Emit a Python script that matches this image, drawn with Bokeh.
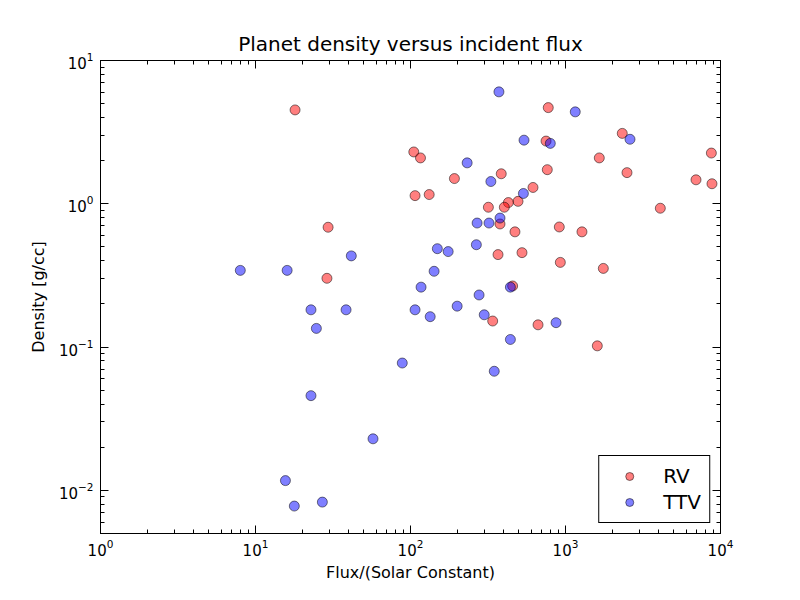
from bokeh.plotting import figure
from bokeh.models import LogAxis, LogTicker, Legend, LegendItem, CustomJSTickFormatter
from bokeh.embed import file_html
from bokeh.resources import INLINE

# Valores (fluxo em constantes solares, densidade em g/cc)
rv_fluxo = [18.0, 29.4, 28.9, 774, 2324, 749, 105, 116, 8730, 1652, 763, 2493,
            385, 192, 6950, 8810, 617, 107, 132, 494, 428, 403, 318, 4090,
            378, 912, 472, 1277, 367, 524, 926, 1754, 456, 339, 665, 1604]
rv_densidade = [4.52, 0.686, 0.302, 4.69, 3.10, 2.74, 2.30, 2.09, 2.26, 2.09, 1.73, 1.65,
                1.62, 1.50, 1.47, 1.38, 1.30, 1.14, 1.16, 1.04, 1.02, 0.946, 0.946, 0.931,
                0.723, 0.689, 0.637, 0.637, 0.442, 0.456, 0.390, 0.354, 0.267, 0.152, 0.143, 0.102]

ttv_fluxo = [372, 1156, 2607, 540, 798, 232, 330, 535, 378, 269, 321, 149,
             175, 266, 142, 117, 441, 277, 107, 134, 200, 299, 869, 441,
             88.5, 347, 7.98, 16.0, 41.5, 22.8, 38.4, 24.7, 22.8, 57.3, 15.6, 17.8, 27.0]
ttv_densidade = [6.04, 4.38, 2.82, 2.78, 2.64, 1.93, 1.43, 1.18, 0.795, 0.734, 0.734, 0.486,
                 0.464, 0.518, 0.338, 0.262, 0.262, 0.231, 0.182, 0.163, 0.193, 0.168, 0.148, 0.113,
                 0.0774, 0.0678, 0.343, 0.343, 0.433, 0.182, 0.182, 0.135, 0.0458, 0.0229, 0.0117, 0.00777, 0.00828]

FONTE = "DejaVu Sans"

p = figure(width=784, height=584, x_axis_type="log", y_axis_type="log",
           x_range=(1, 1e4), y_range=(0.005, 10),
           title="Planet density versus incident flux",
           x_axis_label="Flux/(Solar Constant)", y_axis_label="Density [g/cc]",
           output_backend="svg", toolbar_location=None,
           min_border_left=100, min_border_right=64, min_border_top=60, min_border_bottom=44)

p.title.align = "center"
p.title.text_font = FONTE
p.title.text_font_size = "20px"
p.title.text_font_style = "normal"
p.title.text_color = "black"
p.xgrid.visible = False
p.ygrid.visible = False
p.outline_line_color = "black"
p.outline_line_width = 1


def estilo_eixo(eixo):
    eixo.ticker = LogTicker(num_minor_ticks=10)
    eixo.major_tick_in = 8
    eixo.major_tick_out = 0
    eixo.minor_tick_in = 4
    eixo.minor_tick_out = 0
    eixo.axis_line_color = "black"
    eixo.major_tick_line_color = "black"
    eixo.minor_tick_line_color = "black"
    eixo.major_label_text_font = FONTE
    eixo.major_label_text_font_size = "15px"
    eixo.major_label_text_color = "black"
    eixo.major_label_standoff = 7
    eixo.axis_label_text_font = FONTE
    eixo.axis_label_text_font_size = "16px"
    eixo.axis_label_text_font_style = "normal"
    eixo.axis_label_text_color = "black"
    eixo.axis_label_standoff = 8


estilo_eixo(p.xaxis[0])
estilo_eixo(p.yaxis[0])
p.xaxis[0].major_label_standoff = 5
p.xaxis[0].axis_label_standoff = 4

# eixos extras só com marcas (sem rótulos), como no estilo do matplotlib
topo = LogAxis(formatter=CustomJSTickFormatter(code="return ''"))
estilo_eixo(topo)
topo.major_label_standoff = 0
p.add_layout(topo, "above")
direita = LogAxis(formatter=CustomJSTickFormatter(code="return ''"))
estilo_eixo(direita)
direita.major_label_standoff = 0
p.add_layout(direita, "right")

rv = p.scatter(rv_fluxo, rv_densidade, size=10, fill_color="red", fill_alpha=0.5,
               line_color="black", line_alpha=0.5)
ttv = p.scatter(ttv_fluxo, ttv_densidade, size=10, fill_color="blue", fill_alpha=0.5,
                line_color="black", line_alpha=0.5)

legenda = Legend(items=[LegendItem(label="RV", renderers=[rv]),
                        LegendItem(label="TTV", renderers=[ttv])],
                 location="bottom_right")
legenda.label_text_font = FONTE
legenda.label_text_font_size = "20px"
legenda.label_text_color = "black"
legenda.border_line_color = "black"
legenda.border_line_width = 1
legenda.border_line_alpha = 1
legenda.glyph_width = 44
legenda.label_standoff = 12
legenda.spacing = 2
legenda.padding = 8
legenda.margin = 10
p.add_layout(legenda)

open("out.html", "w").write(file_html(p, INLINE))
